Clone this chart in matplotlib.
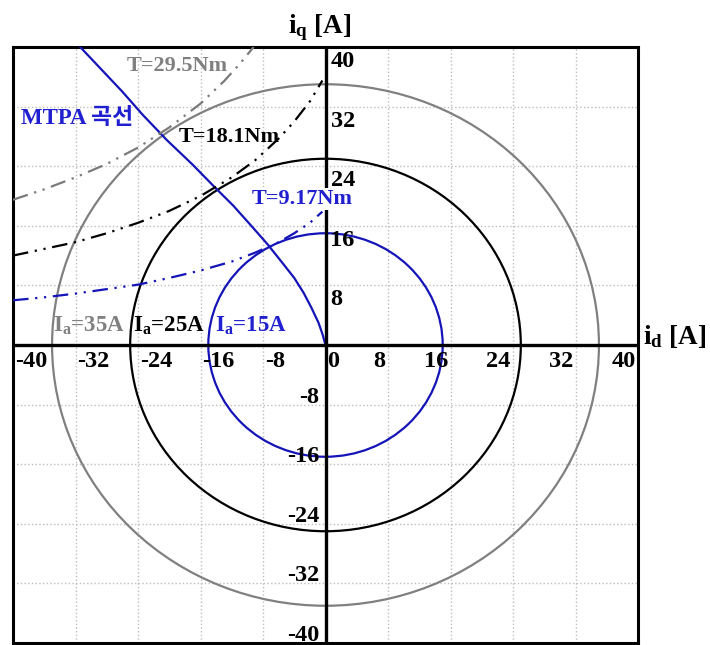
import matplotlib.pyplot as plt
from matplotlib.patches import Circle

plt.rcParams.update({
    'font.family': ['Liberation Serif', 'Noto Sans CJK KR'],
    'font.weight': 'bold',
    'font.size': 16,
    'mathtext.fontset': 'custom',
    'mathtext.rm': 'Liberation Serif:bold',
    'mathtext.it': 'Liberation Serif:bold',
    'mathtext.bf': 'Liberation Serif:bold',
})

# ---------------- data ----------------
ticks = [-40, -32, -24, -16, -8, 0, 8, 16, 24, 32, 40]

# current-limit circles Ia [A]
ia_radius = [35, 25, 15]
ia_labels = ['$\\mathrm{I_a}$=35A', '$\\mathrm{I_a}$=25A', '$\\mathrm{I_a}$=15A']

# MTPA curve (id, iq)
mtpa_id = [0.0, -0.4, -0.9, -1.8, -2.8, -4.0, -5.5, -7.4, -9.5, -11.8, -14.2, -17.0, -20.3, -23.4, -26.0, -28.7, -31.4]
mtpa_iq = [0.0, 1.5, 3.0, 5.0, 7.0, 9.0, 11.0, 13.5, 16.0, 18.7, 21.2, 24.2, 27.5, 30.9, 34.0, 37.0, 40.0]

# constant torque curves (id, iq)
t917_id = [-40, -36, -32, -28, -24, -20, -16, -12, -9, -6, -4, -2, -0.4]
t917_iq = [6.0, 6.4, 6.9, 7.5, 8.1, 9.0, 10.0, 11.2, 12.4, 13.8, 15.0, 16.4, 17.9]

t181_id = [-40, -36, -32, -28, -24, -20, -16, -12, -9, -6, -4, -2, -0.4]
t181_iq = [12.0, 12.9, 13.8, 15.0, 16.4, 18.0, 20.0, 22.5, 24.8, 27.7, 30.0, 32.7, 35.5]

t295_id = [-40, -36, -32, -28, -24, -20, -16, -13, -11, -9.2]
t295_iq = [19.5, 20.9, 22.5, 24.3, 26.5, 29.2, 32.4, 35.4, 37.7, 40.0]

blue = '#1414b8'
blue_txt = '#2020d0'
gray = '#808080'

fig = plt.figure(figsize=(7.1, 6.45), dpi=100)
ax = fig.add_axes([13/710, 2/645, 625/710, 596/645])
ax.set_xlim(-40, 40); ax.set_ylim(-40, 40)

ax.set_xticks(ticks); ax.set_yticks(ticks)
ax.tick_params(length=0, labelbottom=False, labelleft=False)
ax.grid(True, ls=':', color='#bdbdbd', lw=1.0)
for s in ax.spines.values():
    s.set_linewidth(2.2)

# zero axes
ax.axhline(0, color='black', lw=2.4, zorder=4)
ax.axvline(0, color='black', lw=2.4, zorder=4)

# circles
for r, c in zip(ia_radius, [gray, 'black', blue]):
    ax.add_patch(Circle((0, 0), r, fill=False, ec=c, lw=1.6, zorder=3))

# MTPA
ax.plot(mtpa_id, mtpa_iq, color=blue, lw=1.6, zorder=3)

# torque curves (dash-dot-dot)
dd = (0, (7, 3, 1, 3, 1, 3))
ax.plot(t295_id, t295_iq, color='#7a7a7a', lw=1.6, ls=dd, zorder=3)
ax.plot(t181_id, t181_iq, color='black', lw=1.6, ls=dd, zorder=3)
ax.plot(t917_id, t917_iq, color=blue, lw=1.6, ls=dd, zorder=3)

# tick labels inside the plot
px = 0.72
fs_tick = 17.5
for v in ticks:
    if v <= 0:
        ax.annotate(str(v), xy=(v, 0), xytext=(2*px, -6*px), textcoords='offset points',
                    ha='left', va='top', fontsize=fs_tick, zorder=6)
    else:
        ax.annotate(str(v), xy=(v, 0), xytext=(-2.5*px, -6*px), textcoords='offset points',
                    ha='right', va='top', fontsize=fs_tick, zorder=6)
for v in ticks:
    if v > 0:
        ax.annotate(str(v), xy=(0, v), xytext=(5*px, -4*px), textcoords='offset points',
                    ha='left', va='top', fontsize=fs_tick, zorder=6)
    elif v < 0:
        ax.annotate(str(v), xy=(0, v), xytext=(-6*px, 2*px), textcoords='offset points',
                    ha='right', va='baseline', fontsize=fs_tick, zorder=6)

# annotations
ax.text(-25.5, 37.5, 'T=29.5Nm', color=gray, ha='left', va='center', fontsize=16)
ax.text(-39.0, 30.4, 'MTPA 곡선', color=blue_txt, ha='left', va='center', fontsize=16.5)
ax.text(-18.8, 27.9, 'T=18.1Nm', color='black', ha='left', va='center', fontsize=16)
ax.text(-9.5, 19.6, 'T=9.17Nm', color=blue_txt, ha='left', va='center', fontsize=16,
        bbox=dict(fc='white', ec='none', pad=0.5), zorder=5)
for lab, x0, c in zip(ia_labels, [-34.9, -24.6, -14.1], [gray, 'black', blue_txt]):
    ax.text(x0, 2.6, lab, color=c, ha='left', va='center', fontsize=16.5)

# axis titles
fig.text(288/710, 1 - 33/645, '$\\mathrm{i_q}$ [A]', ha='left', va='baseline', fontsize=19.5)
fig.text(643/710, 1 - 344/645, '$\\mathrm{i_d}$ [A]', ha='left', va='baseline', fontsize=19.5)

fig.savefig('out.png', dpi=100, facecolor='white')
